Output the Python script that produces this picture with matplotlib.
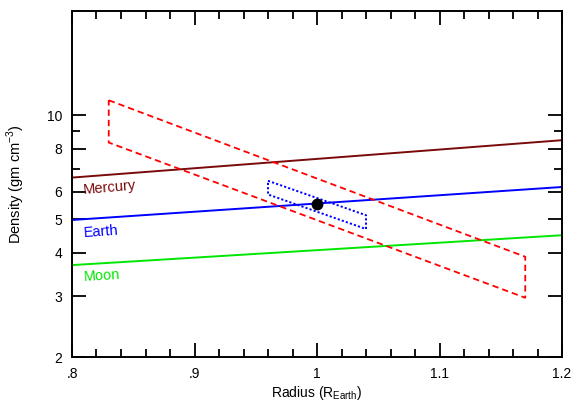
import matplotlib
matplotlib.use("Agg")
import matplotlib.pyplot as plt
from matplotlib.ticker import FixedLocator, FixedFormatter, NullFormatter

plt.rcParams['font.family'] = ['Liberation Sans', 'DejaVu Sans']

# Density-radius relations (endpoints at R = 0.8 and 1.2 R_Earth)
line_radius = [0.8, 1.2]
mercury_density = [6.60, 8.46]
earth_density = [4.98, 6.20]
moon_density = [3.69, 4.50]

# Allowed region from the mass range (wide band)
wide_radius = [0.83, 1.17, 1.17, 0.83, 0.83]
wide_density = [11.03, 3.90, 2.97, 8.33, 11.03]

# Allowed region from the mass range (narrow band)
narrow_radius = [0.96, 1.04, 1.04, 0.96, 0.96]
narrow_density = [6.46, 5.14, 4.69, 5.90, 6.46]

# Measured point
point_radius = [1.0]
point_density = [5.52]

x_major = [0.8, 0.9, 1.0, 1.1, 1.2]
x_labels = [".8", ".9", "1", "1.1", "1.2"]
x_minor = [0.82, 0.84, 0.86, 0.88, 0.92, 0.94, 0.96, 0.98,
           1.02, 1.04, 1.06, 1.08, 1.12, 1.14, 1.16, 1.18]
y_major = [2, 3, 4, 5, 6, 8, 10]
y_labels = ["2", "3", "4", "5", "6", "8", "10"]
y_minor = [7, 9]

fig = plt.figure(figsize=(5.71, 4.01), dpi=100)
ax = fig.add_axes([72 / 571, 1 - 357.3 / 401, 490 / 571, 346.6 / 401])

ax.set_yscale('log')
ax.set_xlim(0.8, 1.2)
ax.set_ylim(2, 20)

ax.plot(line_radius, mercury_density, color='#7a0a0a', lw=1.4)
ax.plot(line_radius, earth_density, color='#0000ff', lw=1.4)
ax.plot(line_radius, moon_density, color='#00e600', lw=1.4)

ax.plot(wide_radius, wide_density, color='#ff0000', lw=1.3,
        linestyle=(0, (3.5, 2.2)))
ax.plot(narrow_radius, narrow_density, color='#0000ff', lw=1.4,
        linestyle=(0, (1.1, 1.1)))
ax.plot(point_radius, point_density, 'o', color='black', ms=7.5, zorder=5)

ax.text(0.8095, 6.08, "Mercury", color='#7a0a0a', fontsize=10.5,
        rotation=5, va='center', ha='left', rotation_mode='anchor')
ax.text(0.8095, 4.58, "Earth", color='#0000ff', fontsize=10.5,
        rotation=4, va='center', ha='left', rotation_mode='anchor')
ax.text(0.8095, 3.42, "Moon", color='#00e600', fontsize=10.5,
        rotation=3.5, va='center', ha='left', rotation_mode='anchor')

ax.xaxis.set_major_locator(FixedLocator(x_major))
ax.xaxis.set_major_formatter(FixedFormatter(x_labels))
ax.xaxis.set_minor_locator(FixedLocator(x_minor))
ax.yaxis.set_major_locator(FixedLocator(y_major))
ax.yaxis.set_major_formatter(FixedFormatter(y_labels))
ax.yaxis.set_minor_locator(FixedLocator(y_minor))
ax.yaxis.set_minor_formatter(NullFormatter())

ax.tick_params(which='both', direction='in', top=True, right=True,
               width=1.3, labelsize=10, pad=7)
ax.tick_params(which='major', length=10)
ax.tick_params(which='minor', length=5.5)
for s in ax.spines.values():
    s.set_linewidth(1.4)

ax.set_xlabel(r"Radius (R$_{\mathregular{Earth}}$)", fontsize=10, labelpad=2)
ax.set_ylabel(r"Density (gm cm$^{\mathregular{-3}}$)", fontsize=10.5,
              labelpad=14)

fig.savefig("out.png", dpi=100)
